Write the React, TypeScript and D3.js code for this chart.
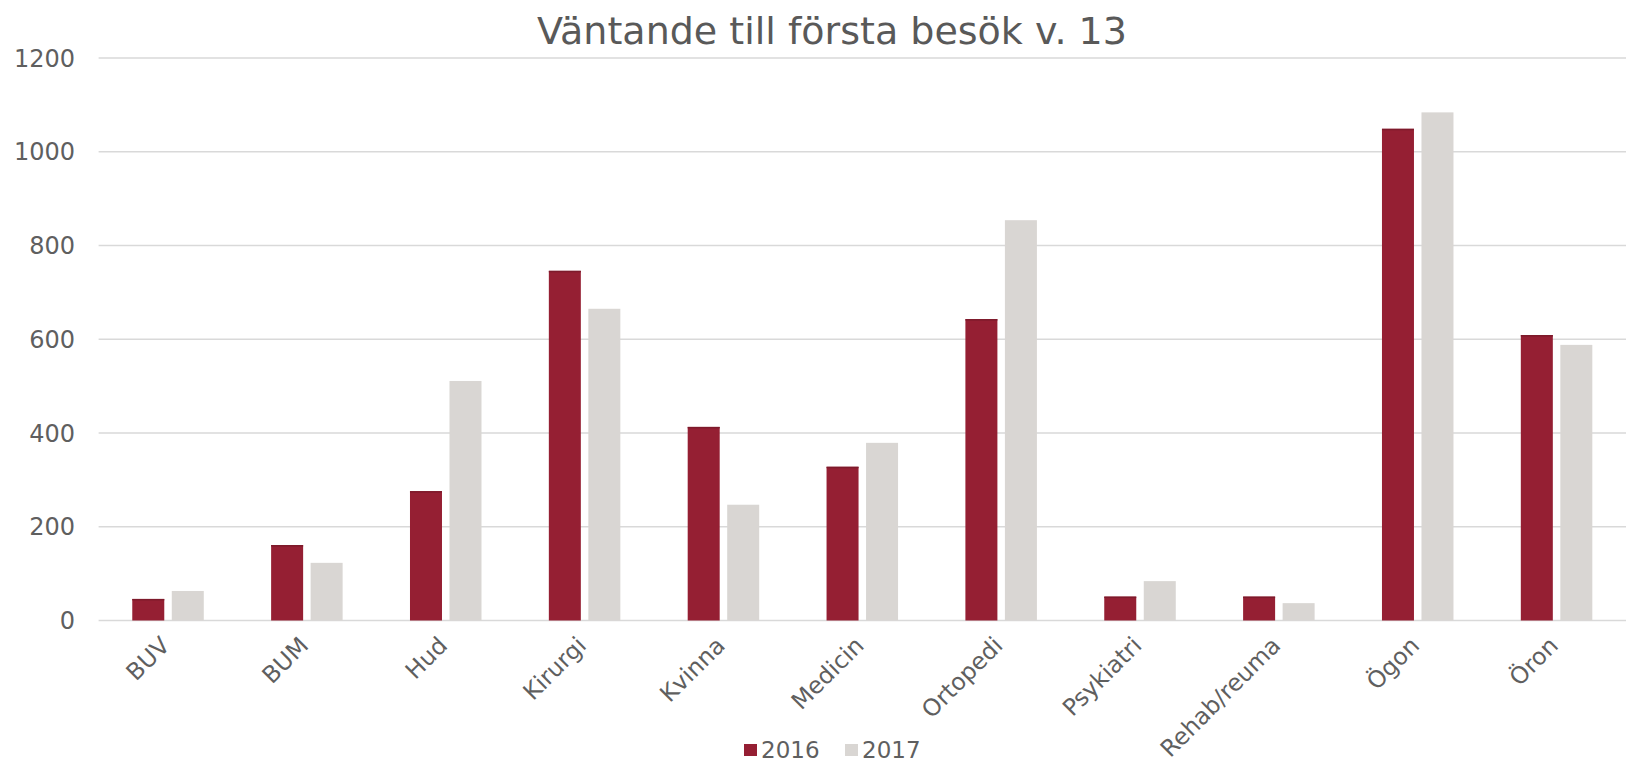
import React from "react";
import * as d3 from "d3";

const categories = ["BUV", "BUM", "Hud", "Kirurgi", "Kvinna", "Medicin", "Ortopedi", "Psykiatri", "Rehab/reuma", "Ögon", "Öron"];
const series = ["2016", "2017"];
const values2016 = [46, 161, 276, 746, 413, 328, 643, 51, 51, 1049, 609];
const values2017 = [63, 123, 511, 665, 247, 379, 854, 84, 37, 1084, 588];
const yTicks = [0, 200, 400, 600, 800, 1000, 1200];
const title = "Väntande till första besök v. 13";
const colors = ["#951F33", "#D9D6D3"];

const W = 1627;
const H = 766;
const plot = { left: 98.6, right: 1626, top: 58, bottom: 620.5 };
const FONT = "'DejaVu Sans', Verdana, sans-serif";
const TEXT = "#5f5f5f";

export default function App() {
  const x0 = d3.scaleBand<string>().domain(categories).range([plot.left, plot.right]).paddingInner(0.485).paddingOuter(0.2425);
  const x1 = d3.scaleBand<string>().domain(series).range([0, x0.bandwidth()]).paddingInner(0.19);
  const y = d3.scaleLinear().domain([0, 1200]).range([plot.bottom, plot.top]);
  const data = [values2016, values2017];

  return (
    <svg width={W} height={H} style={{ position: "absolute", left: 0, top: 0, display: "block", background: "#fff" }} fontFamily={FONT}>
      <rect width={W} height={H} fill="#fff" />
      <text x={832} y={44} textAnchor="middle" fontSize={38} fill="#595959">{title}</text>
      {yTicks.map((t) => (
        <g key={t}>
          <line x1={plot.left} x2={plot.right} y1={y(t)} y2={y(t)} stroke="#D9D9D9" strokeWidth={1.5} />
          <text x={75} y={y(t)} dy="0.36em" textAnchor="end" fontSize={24} fill={TEXT}>{t}</text>
        </g>
      ))}
      {categories.map((c, i) => (
        <g key={c} transform={`translate(${x0(c)},0)`}>
          {series.map((s, j) => (
            <rect key={s} x={x1(s)} y={y(data[j][i])} width={x1.bandwidth()} height={y(0) - y(data[j][i])} fill={colors[j]} />
          ))}
          <rect x={x1("2016")} y={y(values2016[i])} width={x1.bandwidth()} height={1.5} fill="#7d1a2b" />
        </g>
      ))}
      {categories.map((c) => {
        const cx = (x0(c) as number) + x0.bandwidth() / 2;
        return (
          <text key={c} transform={`translate(${cx - 3},${641}) rotate(-45)`} textAnchor="end" dy="0.36em" fontSize={23.5} fill={TEXT}>{c}</text>
        );
      })}
      <g transform="translate(744,750)">
        {series.map((s, j) => (
          <g key={s} transform={`translate(${j * 101},0)`}>
            <rect x={0} y={-6} width={13} height={12} fill={colors[j]} />
            <text x={17} y={0} dy="0.36em" fontSize={23} fill={TEXT}>{s}</text>
          </g>
        ))}
      </g>
    </svg>
  );
}
